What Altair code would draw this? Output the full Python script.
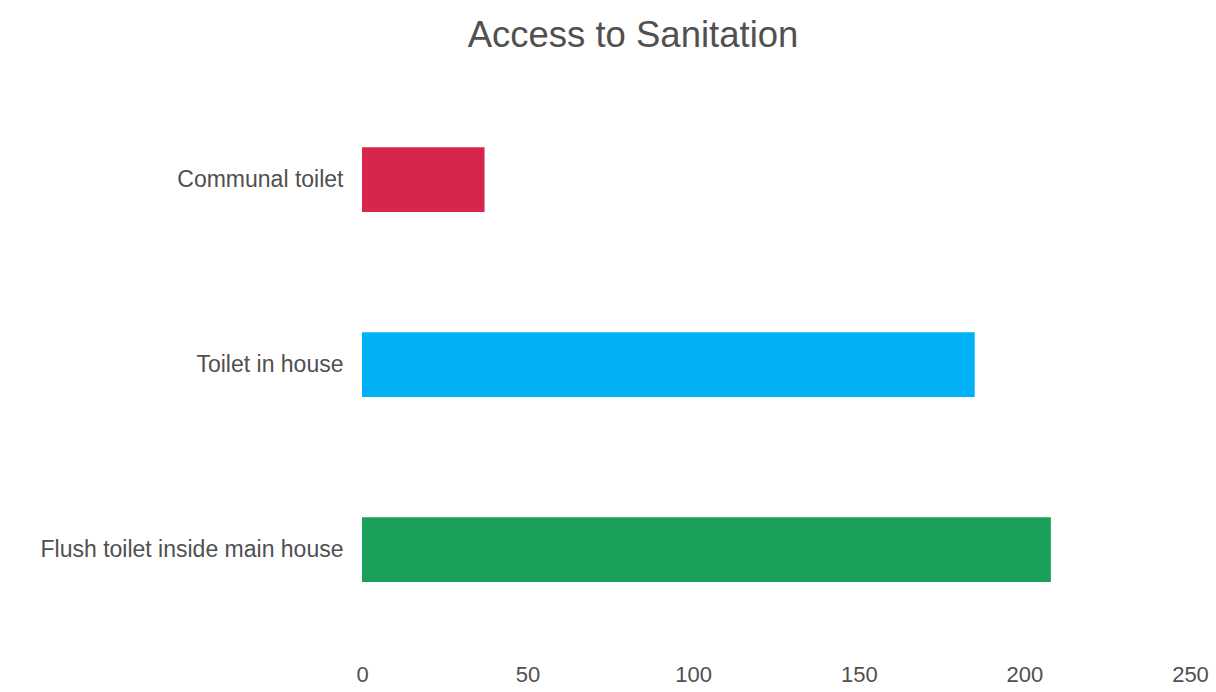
import altair as alt
import pandas as pd

categories = ["Communal toilet", "Toilet in house", "Flush toilet inside main house"]
values = [37, 185, 208]
colors = ["#D7254B", "#00B2F5", "#1BA05C"]
x_ticks = [0, 50, 100, 150, 200, 250]

df = pd.DataFrame({"category": categories, "value": values, "color": colors})

FONT = "Liberation Sans"
TXT = "#505050"

chart = alt.Chart(df).mark_bar().encode(
    y=alt.Y("category:N", sort=categories,
            scale=alt.Scale(paddingInner=0.65, paddingOuter=0.325),
            axis=alt.Axis(title=None, ticks=False, domain=False, labelPadding=19,
                          labelFontSize=23, labelColor=TXT, labelFont=FONT,
                          labelLimit=400)),
    x=alt.X("value:Q", scale=alt.Scale(domain=[0, 250], nice=False),
            axis=alt.Axis(title=None, values=x_ticks, ticks=False, domain=False,
                          grid=False, labelFlush=False, labelPadding=22,
                          labelFontSize=22, labelColor=TXT, labelFont=FONT)),
    color=alt.Color("color:N", scale=None),
).properties(
    width=828, height=555,
    title=alt.TitleParams("Access to Sanitation", fontSize=36.5, font=FONT,
                          fontWeight="normal", color=TXT, anchor="middle",
                          dx=-143, offset=33),
    autosize=alt.AutoSizeParams(type="none"),
    padding={"left": 362, "top": 87, "right": 26, "bottom": 50},
).configure(background="white").configure_view(strokeWidth=0, stroke=None)

chart.save("out.html", embed_options={"renderer": "svg", "actions": False})
